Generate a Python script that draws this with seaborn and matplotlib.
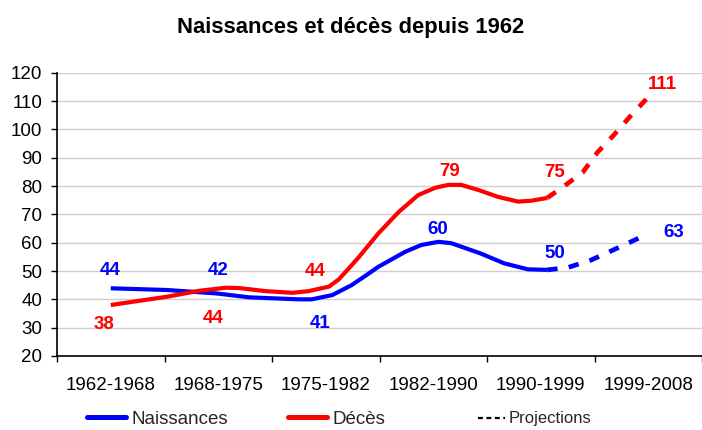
import matplotlib
matplotlib.use("Agg")
import matplotlib.pyplot as plt
from matplotlib.lines import Line2D
import seaborn as sns
import pandas as pd
import numpy as np

# ---- data (x in category-index units) ----
categories = ["1962-1968", "1968-1975", "1975-1982", "1982-1990", "1990-1999", "1999-2008"]

naiss_x = [0.0, 0.52, 0.98, 1.29, 1.75, 1.87, 2.06, 2.24, 2.38, 2.49, 2.74, 2.89, 3.05, 3.17, 3.44, 3.66, 3.88, 4.06]
naiss_y = [43.9, 43.3, 42.1, 40.7, 40.0, 40.0, 41.5, 45.0, 48.6, 51.5, 56.8, 59.2, 60.3, 59.8, 56.2, 52.7, 50.6, 50.4]
naiss_proj_x = [4.06, 4.25, 4.47, 4.69, 4.94]
naiss_proj_y = [50.4, 51.2, 53.9, 57.7, 62.1]

deces_x = [0.0, 0.52, 0.82, 1.07, 1.19, 1.44, 1.69, 1.84, 2.03, 2.12, 2.24, 2.31, 2.49, 2.68, 2.86, 3.02, 3.14, 3.26, 3.42, 3.60, 3.79, 3.91, 4.06]
deces_y = [38.0, 40.9, 43.0, 44.1, 44.0, 42.9, 42.3, 42.9, 44.5, 47.0, 52.0, 55.0, 63.3, 70.9, 76.8, 79.4, 80.4, 80.4, 78.6, 76.2, 74.5, 74.8, 75.8]
deces_proj_x = [4.06, 4.20, 4.39, 4.53, 4.68, 4.83, 5.01]
deces_proj_y = [75.8, 79.5, 84.8, 92.0, 98.0, 104.5, 111.8]

naiss_labels = [44, 42, 41, 60, 50, 63]
deces_labels = [38, 44, 44, 79, 75, 111]

series_names = ["Naissances", "Décès", "Projections"]

# label anchor positions (style)
naiss_lab_pos = [(-0.01, 50.3), (1.00, 50.3), (1.95, 31.6), (3.04, 64.5), (4.13, 56.3), (5.24, 63.5)]
deces_lab_pos = [(-0.06, 31.0), (0.95, 33.4), (1.90, 49.7), (3.15, 85.0), (4.13, 84.6), (5.13, 116.0)]

BLUE = "#0000FF"
RED = "#FF0000"

sns.set_theme(style="white")
plt.rcParams["font.family"] = ["Liberation Sans", "DejaVu Sans"]

fig = plt.figure(figsize=(7.02, 4.30), dpi=100)
ax = fig.add_axes([57 / 702, 1 - 356 / 430, 1 - 57 / 702, (356 - 72.7) / 430])

df_solid = pd.concat([
    pd.DataFrame({"x": naiss_x, "v": naiss_y, "serie": series_names[0]}),
    pd.DataFrame({"x": deces_x, "v": deces_y, "serie": series_names[1]}),
])
df_proj = pd.concat([
    pd.DataFrame({"x": naiss_proj_x, "v": naiss_proj_y, "serie": series_names[0]}),
    pd.DataFrame({"x": deces_proj_x, "v": deces_proj_y, "serie": series_names[1]}),
])
pal = {series_names[0]: BLUE, series_names[1]: RED}

sns.lineplot(data=df_solid, x="x", y="v", hue="serie", palette=pal, sort=False,
             estimator=None, lw=3, legend=False, ax=ax)
sns.lineplot(data=df_proj, x="x", y="v", hue="serie", palette=pal, sort=False,
             estimator=None, lw=3.4, legend=False, ax=ax, dashes=False)
for ln in ax.lines[2:]:
    ln.set_dashes((2.2, 2.4))
for ln in ax.lines:
    ln.set_solid_capstyle("butt")
    ln.set_dash_capstyle("butt")
    ln.set_solid_joinstyle("round")

for val, (px, py) in zip(naiss_labels, naiss_lab_pos):
    ax.text(px, py, str(val), color=BLUE, fontsize=13.5, fontweight="bold",
            ha="center", va="center")
for val, (px, py) in zip(deces_labels, deces_lab_pos):
    ax.text(px, py, str(val), color=RED, fontsize=13.5, fontweight="bold",
            ha="center", va="center", clip_on=False)

ax.set_xlim(-0.5, 5.5)
ax.set_ylim(20, 120)
ax.set_yticks(np.arange(20, 121, 10))
ax.yaxis.grid(True, color="#cfcfcf", lw=1)
ax.xaxis.grid(False)
ax.set_axisbelow(True)
ax.tick_params(axis="y", which="major", direction="out", length=4, width=1,
               color="black", labelsize=13.5, pad=6.5, labelcolor="black", left=True)
ax.set_xticks(np.arange(-0.5, 5.6, 1.0))
ax.set_xticklabels([])
ax.tick_params(axis="x", which="major", direction="out", length=4, width=1,
               color="black", bottom=True)
ax.set_xticks(range(len(categories)), minor=True)
ax.set_xticklabels(categories, minor=True)
ax.tick_params(axis="x", which="minor", length=0, labelsize=13.5, pad=15,
               labelcolor="black")
for s in ["top", "right"]:
    ax.spines[s].set_visible(False)
for s in ["left", "bottom"]:
    ax.spines[s].set_color("black")
    ax.spines[s].set_linewidth(1.2)
ax.set_xlabel("")
ax.set_ylabel("")

fig.text(351 / 702, 1 - 32.5 / 430, "Naissances et décès depuis 1962",
         ha="center", va="baseline", fontsize=15.8, fontweight="bold", color="black")

# legend: three entries placed like the original
leg_y = 1 - 419 / 430
entries = [
    (Line2D([], [], color=BLUE, lw=3.6), series_names[0], 87, 13.5, 2.1),
    (Line2D([], [], color=RED, lw=3.6), series_names[1], 288, 13.5, 2.1),
    (Line2D([], [], color="black", lw=1.6, dashes=(2.2, 1.6)), series_names[2], 478, 12, 1.6),
]
for h, lab, xpx, fs, hl in entries:
    fig.legend([h], [lab], loc="center left", bbox_to_anchor=(xpx / 702, leg_y),
               frameon=False, fontsize=fs, handlelength=hl, handletextpad=0.25,
               borderpad=0, borderaxespad=0)

fig.savefig("out.png", dpi=100)
